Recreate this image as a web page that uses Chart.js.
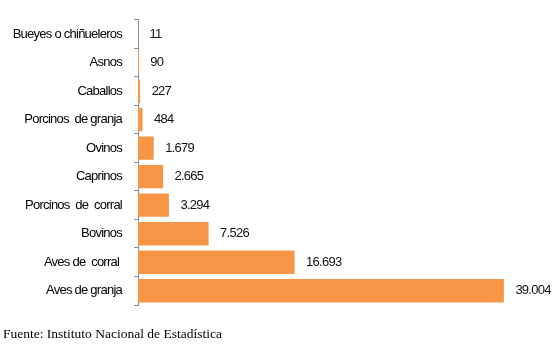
<!DOCTYPE html>
<html>
<head>
<meta charset="utf-8">
<script src="https://cdn.jsdelivr.net/npm/chart.js@4/dist/chart.umd.min.js"></script>
<style>
  html, body { margin: 0; padding: 0; background: #fff; }
  #wrap { position: relative; width: 560px; height: 348px; }
  #footer { position: absolute; left: 3px; top: 326px; font-family: "Liberation Serif", "Times New Roman", serif; font-size: 13.5px; color: #000; white-space: pre; }
</style>
</head>
<body>
<div id="wrap">
  <canvas id="c" width="560" height="348"></canvas>
  <div id="footer">Fuente: Instituto Nacional de Estadística</div>
</div>
<script>
const categories = [
  "Bueyes o chiñueleros",
  "Asnos",
  "Caballos",
  "Porcinos  de granja",
  "Ovinos",
  "Caprinos",
  "Porcinos  de  corral",
  "Bovinos",
  "Aves de  corral ",
  "Aves de granja"
];
const values = [11, 90, 227, 484, 1679, 2665, 3294, 7526, 16693, 39004];

function fmt(v) {
  return String(v).replace(/\B(?=(\d{3})+(?!\d))/g, ".");
}

const tightText = {
  id: "tightText",
  beforeDraw(chart) { chart.ctx.letterSpacing = "-0.75px"; }
};

const valueLabels = {
  id: "valueLabels",
  afterDatasetsDraw(chart) {
    const ctx = chart.ctx;
    const meta = chart.getDatasetMeta(0);
    ctx.save();
    ctx.letterSpacing = "-0.75px";
    ctx.font = "13px 'Liberation Sans', Arial, sans-serif";
    ctx.fillStyle = "#111";
    ctx.textAlign = "left";
    ctx.textBaseline = "middle";
    meta.data.forEach((el, i) => {
      ctx.fillText(fmt(values[i]), el.x + 11.5, el.y);
    });
    ctx.restore();
  }
};

new Chart(document.getElementById("c"), {
  type: "bar",
  data: {
    labels: categories,
    datasets: [{
      data: values,
      backgroundColor: "#F79646",
      borderWidth: 0,
      barPercentage: 0.82,
      categoryPercentage: 1.0
    }]
  },
  options: {
    indexAxis: "y",
    responsive: false,
    animation: false,
    devicePixelRatio: 1,
    layout: { padding: { left: 0, right: 28, top: 14, bottom: 43 } },
    plugins: { legend: { display: false }, tooltip: { enabled: false } },
    scales: {
      x: { display: false, min: 0, max: 42000 },
      y: {
        afterFit(s) { s.width = 138; },
        border: { display: true, color: "#8c8c8c", width: 1 },
        grid: { offset: true, drawOnChartArea: false, drawTicks: true, tickLength: 4, color: "#8c8c8c" },
        ticks: {
          padding: 12,
          color: "#000",
          font: { family: "'Liberation Sans', Arial, sans-serif", size: 13 }
        }
      }
    }
  },
  plugins: [tightText, valueLabels]
});
</script>
</body>
</html>
